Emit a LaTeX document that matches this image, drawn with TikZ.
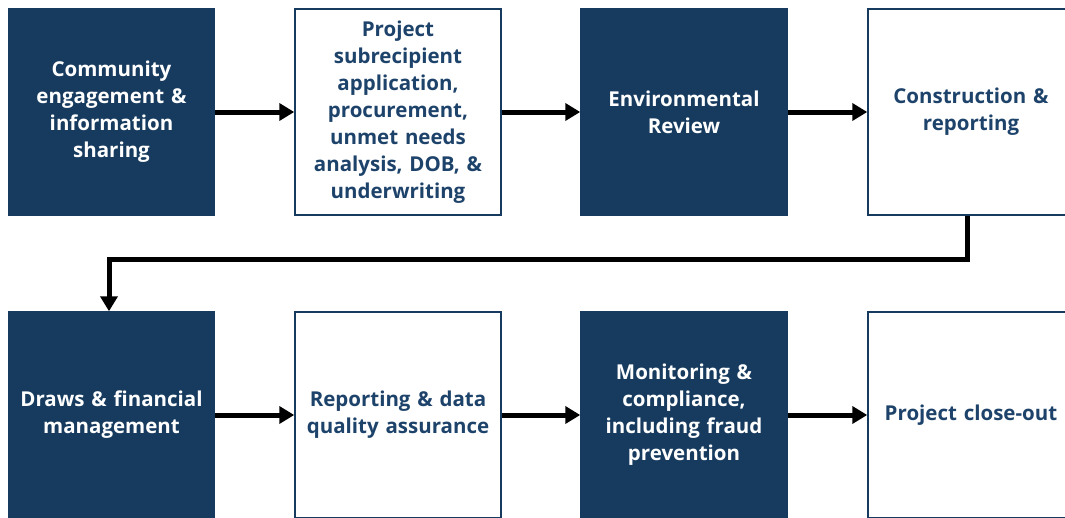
\documentclass[tikz,border=0pt]{standalone}
\usepackage{fontspec}
\setmainfont{Open Sans}
\usetikzlibrary{arrows.meta}
\definecolor{navy}{HTML}{173B5F}
\definecolor{navytext}{HTML}{1E436B}
\begin{document}
\begin{tikzpicture}[x=1pt,y=-1pt,
  stage/.style={rectangle,minimum width=206pt,minimum height=206pt,inner sep=0pt,
    draw=navy,line width=1.5pt,align=center,text width=204pt,
    font=\fontsize{20.5}{27}\selectfont\bfseries},
  dark/.style={stage,fill=navy,text=white},
  light/.style={stage,fill=white,text=navytext},
  flow/.style={line width=5pt,-{Triangle[length=15pt,width=17pt]}}]
\useasboundingbox (0,0) rectangle (1065,517);
\clip (0,0) rectangle (1065,517);
\fill[white] (0,0) rectangle (1065,517);
% first row
\node[dark]  (s1) at (111.5,112) {Community\\engagement \&\\information\\sharing};
\node[light] (s2) at (398,112) {Project\\subrecipient\\application,\\procurement,\\unmet needs\\analysis, DOB, \&\\underwriting};
\node[dark]  (s3) at (684,112) {Environmental\\Review};
\node[light] (s4) at (971,112) {Construction \&\\reporting};
% second row
\node[dark]  (s5) at (111.5,415) {Draws \& financial\\management};
\node[light] (s6) at (398,415) {Reporting \& data\\quality assurance};
\node[dark]  (s7) at (684,415) {Monitoring \&\\compliance,\\including fraud\\prevention};
\node[light] (s8) at (971,415) {Project close-out};
% connectors
\draw[flow] (s1.east) -- (s2.west);
\draw[flow] (s2.east) -- (s3.west);
\draw[flow] (s3.east) -- (s4.west);
\coordinate (turnA) at (967,259);
\coordinate (turnB) at (109,259);
\draw[flow] (s4.south -| turnA) -- (turnA) -- (turnB) -- (s5.north -| turnB);
\draw[flow] (s5.east) -- (s6.west);
\draw[flow] (s6.east) -- (s7.west);
\draw[flow] (s7.east) -- (s8.west);
\end{tikzpicture}
\end{document}
